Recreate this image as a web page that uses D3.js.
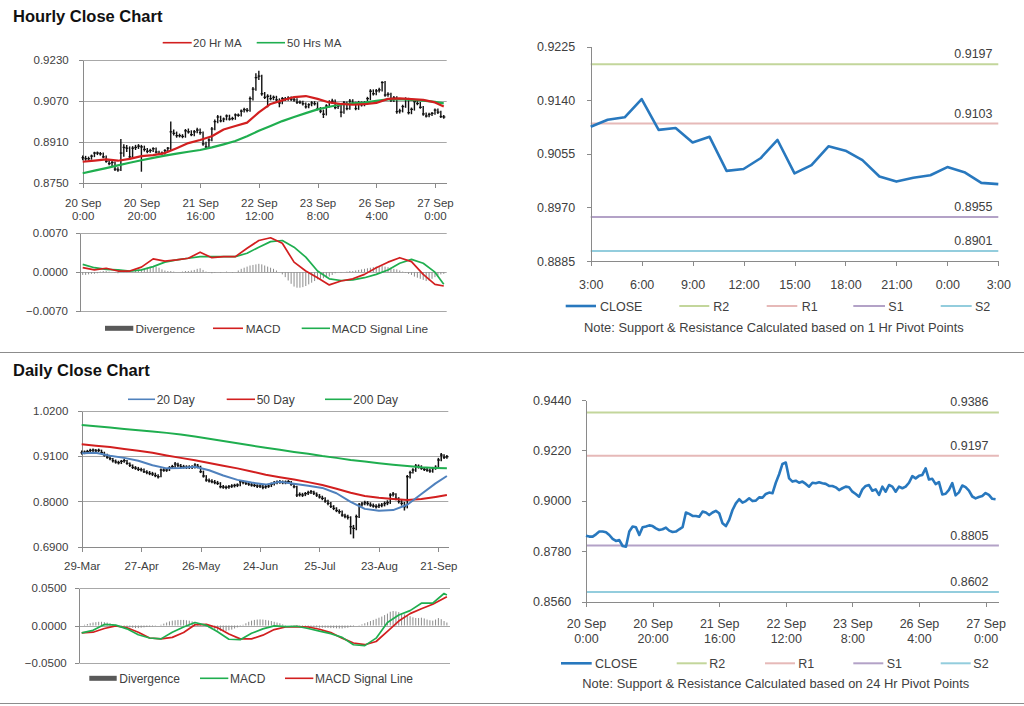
<!DOCTYPE html>
<html><head><meta charset="utf-8">
<script src="https://cdn.jsdelivr.net/npm/d3@7"></script>
<style>
body{margin:0;background:#fff;}
svg{display:block;}
</style></head><body>
<svg id="c" width="1024" height="706"></svg>
<script>
// ---------------- DATA ----------------
// Hourly (20 Sep 0:00 .. 27 Sep 3:00), 124 bars
const hourTickIdx = [0,20,40,60,80,100,120];
const hourTickLabels = [["20 Sep","0:00"],["20 Sep","20:00"],["21 Sep","16:00"],["22 Sep","12:00"],["23 Sep","8:00"],["26 Sep","4:00"],["27 Sep","0:00"]];
const hClose = [0.8848,0.8844,0.8844,0.8854,0.8866,0.8866,0.8863,0.8851,0.8834,0.8825,
 0.8829,0.8803,0.8800,0.8866,0.8888,0.8885,0.8851,0.8885,0.8888,0.8893,
 0.8890,0.8880,0.8873,0.8876,0.8883,0.8870,0.8864,0.8866,0.8876,0.8885,
 0.8949,0.8943,0.8934,0.8934,0.8931,0.8953,0.8949,0.8938,0.8949,0.8956,
 0.8946,0.8902,0.8890,0.8917,0.8960,0.8989,0.9007,0.8992,0.8999,0.9011,
 0.8999,0.9001,0.9015,0.9014,0.9030,0.9036,0.9033,0.9079,0.9116,0.9161,
 0.9167,0.9098,0.9084,0.9088,0.9079,0.9084,0.9074,0.9062,0.9079,0.9077,
 0.9081,0.9077,0.9074,0.9065,0.9065,0.9059,0.9047,0.9055,0.9062,0.9059,
 0.9040,0.9030,0.9018,0.9050,0.9065,0.9069,0.9044,0.9050,0.9026,0.9062,
 0.9040,0.9069,0.9062,0.9040,0.9062,0.9055,0.9062,0.9079,0.9108,0.9098,
 0.9109,0.9113,0.9142,0.9093,0.9096,0.9073,0.9082,0.9028,0.9031,0.9048,
 0.9077,0.9024,0.9037,0.9067,0.9060,0.9045,0.9019,0.9011,0.9017,0.9021,
 0.9034,0.9026,0.9009,0.9007];
const hHigh = [0.8856,0.8855,0.8852,0.8860,0.8871,0.8872,0.8870,0.8868,0.8856,0.8840,
 0.8836,0.8833,0.8810,0.8921,0.8900,0.8897,0.8892,0.8893,0.8898,0.8901,
 0.8898,0.8895,0.8886,0.8883,0.8889,0.8888,0.8875,0.8872,0.8881,0.8890,
 0.8989,0.8958,0.8950,0.8942,0.8940,0.8960,0.8962,0.8955,0.8956,0.8965,
 0.8962,0.8950,0.8910,0.8924,0.8968,0.8997,0.9015,0.9012,0.9005,0.9017,
 0.9016,0.9008,0.9021,0.9021,0.9036,0.9043,0.9042,0.9087,0.9124,0.9178,
 0.9188,0.9172,0.9105,0.9096,0.9094,0.9091,0.9090,0.9080,0.9085,0.9085,
 0.9088,0.9087,0.9083,0.9080,0.9072,0.9071,0.9064,0.9061,0.9069,0.9069,
 0.9065,0.9046,0.9036,0.9057,0.9073,0.9078,0.9075,0.9057,0.9055,0.9070,
 0.9068,0.9077,0.9076,0.9067,0.9070,0.9068,0.9069,0.9086,0.9116,0.9115,
 0.9117,0.9121,0.9147,0.9148,0.9104,0.9102,0.9089,0.9088,0.9039,0.9055,
 0.9084,0.9082,0.9044,0.9073,0.9073,0.9066,0.9050,0.9025,0.9024,0.9027,
 0.9040,0.9040,0.9031,0.9015];
const hLow = [0.8838,0.8836,0.8837,0.8840,0.8850,0.8858,0.8856,0.8846,0.8828,0.8818,
 0.8815,0.8796,0.8793,0.8796,0.8852,0.8870,0.8840,0.8845,0.8878,0.8882,
 0.8793,0.8872,0.8865,0.8867,0.8870,0.8864,0.8858,0.8859,0.8860,0.8870,
 0.8878,0.8935,0.8926,0.8927,0.8924,0.8926,0.8942,0.8932,0.8932,0.8943,
 0.8938,0.8895,0.8882,0.8884,0.8912,0.8955,0.8983,0.8986,0.8987,0.8994,
 0.8993,0.8994,0.8996,0.9008,0.9009,0.9025,0.9026,0.9028,0.9072,0.9110,
 0.9152,0.9090,0.9077,0.9045,0.9072,0.9073,0.9067,0.9045,0.9057,0.9070,
 0.9071,0.9070,0.9067,0.9058,0.9058,0.9052,0.9040,0.9041,0.9049,0.9052,
 0.9033,0.9022,0.9003,0.9013,0.9044,0.9058,0.9037,0.9038,0.9006,0.9020,
 0.9033,0.9035,0.9055,0.9033,0.9035,0.9048,0.9049,0.9056,0.9073,0.9091,
 0.9092,0.9103,0.9107,0.9086,0.9086,0.9066,0.9066,0.9020,0.9021,0.9025,
 0.9043,0.9017,0.9018,0.9032,0.9053,0.9039,0.9012,0.9005,0.9006,0.9011,
 0.9016,0.9019,0.9003,0.9000];
const hLineIdx = [0,4,8,12,16,20,24,28,32,36,40,44,48,52,56,60,64,68,72,76,80,84,88,92,96,100,104,108,112,116,120,123];
const hMA20 = [0.8832,0.8836,0.8841,0.8836,0.8843,0.8854,0.8858,0.8866,0.8885,0.8905,0.8917,0.8932,0.8958,0.8972,0.8985,0.9025,0.9058,0.9072,0.9085,0.9089,0.9078,0.9064,0.9058,0.9055,0.9057,0.9062,0.9078,0.9080,0.9077,0.9074,0.9064,0.9048];
const hMA50 = [0.8787,0.8797,0.8807,0.8818,0.8828,0.8838,0.8847,0.8856,0.8864,0.8871,0.8878,0.8888,0.8900,0.8913,0.8932,0.8953,0.8972,0.8991,0.9007,0.9022,0.9037,0.9047,0.9056,0.9060,0.9063,0.9070,0.9076,0.9077,0.9074,0.9071,0.9066,0.9060];
const hMACD = [0.0008,0.0004,0.0007,0.0002,0.0002,0.0009,0.0024,0.0020,0.0022,0.0025,0.0036,0.0026,0.0028,0.0028,0.0043,0.0057,0.0062,0.0052,0.0018,0.0002,-0.0010,-0.0023,-0.0016,-0.0012,-0.0004,0.0008,0.0018,0.0026,0.0019,-0.0004,-0.0022,-0.0025];
const hSignal = [0.0014,0.0008,0.0005,0.0004,0.0002,0.0004,0.0010,0.0018,0.0022,0.0025,0.0028,0.0028,0.0028,0.0028,0.0034,0.0045,0.0055,0.0057,0.0045,0.0027,0.0002,-0.0012,-0.0015,-0.0014,-0.0010,-0.0004,0.0004,0.0016,0.0023,0.0016,0.0000,-0.0022];
const hDiv = [-0.0005,-0.0005,-0.0004,-0.0003,-0.0003,-0.0002,0.0001,0.0002,0.0002,0.0001,
 0.0000,-0.0001,-0.0002,0.0000,0.0001,0.0001,0.0000,0.0001,0.0002,0.0003,
 0.0004,0.0006,0.0008,0.0010,0.0011,0.0010,0.0008,0.0005,0.0003,0.0002,
 0.0002,0.0001,0.0000,0.0000,0.0001,0.0002,0.0002,0.0003,0.0004,0.0006,
 0.0007,0.0004,0.0001,-0.0001,-0.0002,-0.0001,0.0000,-0.0001,0.0000,0.0001,
 0.0000,-0.0001,0.0000,0.0003,0.0006,0.0008,0.0010,0.0012,0.0013,0.0014,
 0.0015,0.0014,0.0012,0.0010,0.0008,0.0006,0.0003,0.0000,-0.0004,-0.0009,
 -0.0015,-0.0021,-0.0026,-0.0028,-0.0028,-0.0027,-0.0025,-0.0022,-0.0019,-0.0016,
 -0.0013,-0.0012,-0.0011,-0.0010,-0.0008,-0.0005,-0.0002,0.0000,-0.0001,0.0000,
 0.0001,0.0002,0.0002,0.0003,0.0004,0.0005,0.0006,0.0007,0.0008,0.0009,
 0.0010,0.0010,0.0011,0.0010,0.0009,0.0008,0.0006,0.0005,0.0003,0.0001,
 -0.0001,-0.0003,-0.0005,-0.0008,-0.0010,-0.0012,-0.0014,-0.0016,-0.0015,-0.0012,
 -0.0009,-0.0006,-0.0004,-0.0003];
// 1 Hr pivot panel (26 Sep 3:00 .. 27 Sep 3:00)
const pivotNames = ["R2","R1","S1","S2"];
const pivotColors = ["#c3d69b","#e6b9b8","#b3a2c7","#93cddd"];
const pivot1h = [0.9197,0.9103,0.8955,0.8901];
const close1h = [0.9098,0.9109,0.9113,0.9142,0.9093,0.9096,0.9073,0.9082,0.9028,0.9031,0.9048,0.9077,0.9024,0.9037,0.9067,0.9060,0.9045,0.9019,0.9011,0.9017,0.9021,0.9034,0.9026,0.9009,0.9007];
const tick1hIdx = [0,3,6,9,12,15,18,21,24];
const tick1hLabels = ["3:00","6:00","9:00","12:00","15:00","18:00","21:00","0:00","3:00"];
const ticks1hY = [0.8885,0.8970,0.9055,0.9140,0.9225];
// 24 Hr pivot panel
const pivot24h = [0.9386,0.9197,0.8805,0.8602];
const ticks24hY = [0.8560,0.8780,0.9000,0.9220,0.9440];

// Daily (29-Mar .. 26-Sep), 130 bars
const dayTickIdx = [0,21,42,63,84,105,126];
const dayTickLabels = ["29-Mar","27-Apr","26-May","24-Jun","25-Jul","23-Aug","21-Sep"];
const dClose = [0.9186,0.9200,0.9215,0.9240,0.9251,0.9230,0.9245,0.9190,0.9130,0.9075,
 0.9040,0.8992,0.8960,0.8943,0.8975,0.8992,0.8927,0.8880,0.8829,0.8810,
 0.8781,0.8770,0.8724,0.8705,0.8680,0.8667,0.8630,0.8602,0.8765,0.8760,
 0.8765,0.8820,0.8846,0.8911,0.8880,0.8846,0.8840,0.8829,0.8835,0.8829,
 0.8886,0.8850,0.8724,0.8620,0.8521,0.8500,0.8481,0.8460,0.8440,0.8359,
 0.8350,0.8343,0.8360,0.8375,0.8390,0.8400,0.8481,0.8470,0.8440,0.8420,
 0.8400,0.8390,0.8375,0.8375,0.8343,0.8360,0.8375,0.8420,0.8456,0.8470,
 0.8481,0.8460,0.8470,0.8481,0.8420,0.8359,0.8156,0.8170,0.8156,0.8190,
 0.8213,0.8237,0.8200,0.8156,0.8110,0.8075,0.8010,0.7954,0.7880,0.7832,
 0.7780,0.7751,0.7670,0.7640,0.7613,0.7386,0.7346,0.7629,0.7913,0.7940,
 0.7970,0.7950,0.7913,0.7890,0.7873,0.7900,0.7913,0.7950,0.7970,0.8156,
 0.8181,0.8075,0.8000,0.7954,0.7873,0.8602,0.8700,0.8765,0.8862,0.8850,
 0.8810,0.8781,0.8760,0.8740,0.8800,0.8829,0.9008,0.9129,0.9073,0.9089];
const dHigh = [0.9240,0.9240,0.9255,0.9280,0.9290,0.9275,0.9285,0.9260,0.9210,0.9160,
 0.9100,0.9060,0.9020,0.8990,0.9010,0.9040,0.9010,0.8950,0.8900,0.8860,
 0.8840,0.8820,0.8800,0.8760,0.8740,0.8720,0.8700,0.8660,0.8800,0.8810,
 0.8810,0.8860,0.8890,0.8960,0.8940,0.8910,0.8890,0.8880,0.8880,0.8880,
 0.8930,0.8910,0.8870,0.8750,0.8640,0.8560,0.8540,0.8520,0.8500,0.8470,
 0.8400,0.8390,0.8400,0.8420,0.8430,0.8440,0.8520,0.8520,0.8500,0.8470,
 0.8450,0.8440,0.8420,0.8420,0.8400,0.8400,0.8420,0.8460,0.8500,0.8510,
 0.8520,0.8510,0.8510,0.8520,0.8500,0.8440,0.8380,0.8220,0.8210,0.8230,
 0.8260,0.8280,0.8260,0.8220,0.8180,0.8140,0.8100,0.8040,0.7990,0.7910,
 0.7860,0.7810,0.7780,0.7700,0.7680,0.7640,0.7430,0.7680,0.7960,0.7990,
 0.8020,0.8010,0.7980,0.7950,0.7930,0.7950,0.7960,0.8000,0.8030,0.8200,
 0.8230,0.8200,0.8100,0.8040,0.7990,0.8643,0.8750,0.8810,0.8910,0.8900,
 0.8880,0.8840,0.8820,0.8800,0.8840,0.8880,0.9060,0.9180,0.9150,0.9130];
const dLow = [0.9140,0.9150,0.9170,0.9190,0.9205,0.9190,0.9200,0.9150,0.9090,0.9040,
 0.9000,0.8950,0.8920,0.8900,0.8910,0.8940,0.8890,0.8840,0.8790,0.8770,
 0.8740,0.8730,0.8690,0.8660,0.8640,0.8620,0.8590,0.8560,0.8590,0.8720,
 0.8720,0.8740,0.8790,0.8820,0.8840,0.8800,0.8800,0.8790,0.8790,0.8790,
 0.8800,0.8810,0.8690,0.8580,0.8480,0.8460,0.8440,0.8420,0.8400,0.8320,
 0.8310,0.8300,0.8310,0.8330,0.8340,0.8350,0.8370,0.8420,0.8400,0.8380,
 0.8360,0.8350,0.8330,0.8330,0.8300,0.8310,0.8330,0.8350,0.8390,0.8420,
 0.8430,0.8420,0.8420,0.8430,0.8380,0.8320,0.8110,0.8120,0.8110,0.8130,
 0.8160,0.8180,0.8160,0.8110,0.8070,0.8030,0.7970,0.7910,0.7840,0.7790,
 0.7740,0.7700,0.7630,0.7590,0.7560,0.7200,0.7102,0.7300,0.7600,0.7880,
 0.7910,0.7900,0.7870,0.7850,0.7830,0.7840,0.7860,0.7880,0.7910,0.7940,
 0.8120,0.8030,0.7950,0.7900,0.7780,0.7832,0.8560,0.8680,0.8720,0.8800,
 0.8770,0.8740,0.8720,0.8700,0.8700,0.8770,0.8800,0.8980,0.9030,0.9040];
const dMAIdx = [0,5,10,15,20,25,30,35,40,45,50,55,60,65,70,75,80,85,90,95,100,105,110,115,120,125,129];
const dMA20 = [0.9170,0.9186,0.9110,0.9060,0.8990,0.8880,0.8805,0.8815,0.8846,0.8760,0.8630,0.8525,0.8460,0.8410,0.8481,0.8430,0.8380,0.8330,0.8200,0.7990,0.7820,0.7775,0.7790,0.7920,0.8180,0.8440,0.8619];
const dMA50 = [0.9389,0.9355,0.9322,0.9275,0.9235,0.9185,0.9120,0.9060,0.9000,0.8935,0.8870,0.8805,0.8730,0.8650,0.8590,0.8535,0.8470,0.8400,0.8310,0.8210,0.8135,0.8090,0.8060,0.8035,0.8060,0.8110,0.8156];
const dMA200 = [0.9859,0.9828,0.9796,0.9764,0.9732,0.9700,0.9668,0.9630,0.9580,0.9525,0.9470,0.9415,0.9360,0.9305,0.9255,0.9205,0.9160,0.9105,0.9060,0.9010,0.8970,0.8930,0.8895,0.8860,0.8830,0.8815,0.8805];
const dMacdIdx = [0,4,8,12,16,20,24,28,32,36,40,44,48,52,56,60,64,68,72,76,80,84,88,92,96,100,104,108,112,116,120,124,128,129];
const dMACD = [-0.0100,-0.0065,0.0015,0.0005,-0.0045,-0.0125,-0.0168,-0.0180,-0.0090,-0.0020,0.0040,0.0002,-0.0085,-0.0185,-0.0190,-0.0105,-0.0045,-0.0005,-0.0015,-0.0010,-0.0040,-0.0075,-0.0110,-0.0160,-0.0259,-0.0270,-0.0170,0.0040,0.0140,0.0200,0.0300,0.0300,0.0430,0.0410];
const dSignal = [-0.0100,-0.0090,-0.0040,-0.0005,-0.0030,-0.0090,-0.0168,-0.0180,-0.0160,-0.0095,0.0010,0.0015,-0.0030,-0.0115,-0.0180,-0.0180,-0.0130,-0.0055,-0.0020,-0.0015,-0.0020,-0.0050,-0.0095,-0.0170,-0.0235,-0.0258,-0.0215,-0.0080,0.0060,0.0160,0.0225,0.0285,0.0365,0.0385];
const dDiv = [0.0000,0.0010,0.0020,0.0030,0.0040,0.0045,0.0050,0.0050,0.0045,0.0040,
 0.0030,0.0020,0.0010,0.0000,-0.0010,-0.0015,-0.0020,-0.0025,-0.0030,-0.0035,
 -0.0035,-0.0030,-0.0025,-0.0020,-0.0015,-0.0010,-0.0005,0.0000,0.0010,0.0025,
 0.0040,0.0055,0.0065,0.0070,0.0075,0.0075,0.0075,0.0070,0.0065,0.0055,
 0.0040,0.0025,0.0010,-0.0005,-0.0020,-0.0035,-0.0050,-0.0060,-0.0068,-0.0072,
 -0.0075,-0.0072,-0.0065,-0.0055,-0.0040,-0.0025,-0.0010,0.0010,0.0030,0.0050,
 0.0065,0.0075,0.0080,0.0082,0.0080,0.0075,0.0068,0.0060,0.0050,0.0040,
 0.0030,0.0015,0.0005,0.0000,-0.0005,-0.0005,-0.0008,-0.0010,-0.0015,-0.0018,
 -0.0020,-0.0022,-0.0025,-0.0025,-0.0028,-0.0030,-0.0030,-0.0032,-0.0035,-0.0035,
 -0.0038,-0.0040,-0.0040,-0.0035,-0.0030,-0.0020,-0.0010,0.0000,0.0005,0.0015,
 0.0030,0.0045,0.0060,0.0075,0.0090,0.0105,0.0120,0.0140,0.0160,0.0185,
 0.0195,0.0190,0.0180,0.0165,0.0150,0.0140,0.0125,0.0110,0.0100,0.0100,
 0.0105,0.0095,0.0080,0.0070,0.0065,0.0080,0.0100,0.0085,0.0060,0.0040];

// ---------------- DRAWING ----------------
const FONT = '"Liberation Sans", Arial, Helvetica, sans-serif';
const AX = "#8a8a8a", GRID = "#a8a8a8", TXT = "#404040";
const svg = d3.select("#c").attr("font-family", FONT);

function styleAxis(g, fs) {
  g.attr("font-family", FONT).attr("font-size", fs);
  g.select(".domain").attr("stroke", AX).attr("shape-rendering","crispEdges");
  g.selectAll(".tick line").attr("stroke", AX).attr("shape-rendering","crispEdges");
  g.selectAll(".tick text").attr("fill", TXT);
}
function yAxis(y, xPos, ticks, fs, pad) {
  const g = svg.append("g").attr("transform", `translate(${xPos},0)`)
    .call(d3.axisLeft(y).tickValues(ticks).tickFormat(d3.format(".4f")).tickSize(4).tickSizeOuter(0).tickPadding(pad));
  styleAxis(g, fs);
  return g;
}
function xAxis(x, yPos, idx, labels, fs, off1, off2) {
  const g = svg.append("g").attr("transform", `translate(0,${yPos})`)
    .call(d3.axisBottom(x).tickValues(idx).tickSize(5).tickSizeOuter(0).tickFormat(""));
  styleAxis(g, fs);
  g.selectAll(".tick text").remove();
  g.selectAll(".tick").each(function(d, i) {
    const lab = labels[i];
    const t = d3.select(this).append("text").attr("fill", TXT).attr("text-anchor", "middle");
    if (Array.isArray(lab)) {
      t.append("tspan").attr("x", 0).attr("y", off1).text(lab[0]);
      t.append("tspan").attr("x", 0).attr("y", off2).text(lab[1]);
    } else {
      t.attr("y", off1).text(lab);
    }
  });
  return g;
}
function grid(y, vals, x0, x1) {
  svg.append("g").selectAll("line").data(vals).join("line")
    .attr("x1", x0).attr("x2", x1)
    .attr("y1", d => Math.round(y(d)) + 0.5).attr("y2", d => Math.round(y(d)) + 0.5)
    .attr("stroke", GRID).attr("stroke-width", 1);
}
function path(xs, ys, x, y, color, w) {
  svg.append("path").datum(ys.map((v, i) => [xs[i], v]))
    .attr("fill", "none").attr("stroke", color).attr("stroke-width", w)
    .attr("stroke-linejoin", "round")
    .attr("d", d3.line().x(d => x(d[0])).y(d => y(d[1])));
}
function legLine(x1, x2, y, color, w, label, tx, fs) {
  svg.append("line").attr("x1", x1).attr("x2", x2).attr("y1", y).attr("y2", y)
    .attr("stroke", color).attr("stroke-width", w);
  svg.append("text").attr("x", tx).attr("y", y + fs * 0.36).attr("font-size", fs)
    .attr("fill", TXT).text(label);
}
function legBar(x1, x2, y, label, tx, fs) {
  svg.append("rect").attr("x", x1).attr("y", y - 2.5).attr("width", x2 - x1).attr("height", 5).attr("fill", "#595959");
  svg.append("text").attr("x", tx).attr("y", y + fs * 0.36).attr("font-size", fs)
    .attr("fill", TXT).text(label);
}
function candles(close, high, low, x, y, w) {
  const g = svg.append("g");
  g.selectAll("line.r").data(close).join("line").attr("class","r")
    .attr("x1", (d, i) => x(i)).attr("x2", (d, i) => x(i))
    .attr("y1", (d, i) => y(high[i])).attr("y2", (d, i) => y(low[i]))
    .attr("stroke", "#111").attr("stroke-width", w);
  g.selectAll("line.c").data(close).join("line").attr("class","c")
    .attr("x1", (d, i) => x(i) - 1.2).attr("x2", (d, i) => x(i) + 1.6)
    .attr("y1", d => y(d)).attr("y2", d => y(d))
    .attr("stroke", "#111").attr("stroke-width", 1.3);
}
function bars(vals, x, y, color) {
  svg.append("g").selectAll("rect").data(vals).join("rect")
    .attr("x", (d, i) => x(i) - 0.5).attr("width", 1)
    .attr("y", d => Math.min(y(d), y(0))).attr("height", d => Math.abs(y(d) - y(0)))
    .attr("fill", color);
}
function title(t, x, y) {
  svg.append("text").attr("x", x).attr("y", y).attr("font-size", 16.5).attr("font-weight", "bold")
    .attr("fill", "#111").text(t);
}
function sep(y) {
  svg.append("line").attr("x1", 0).attr("x2", 1024).attr("y1", y).attr("y2", y)
    .attr("stroke", "#8c8c8c").attr("stroke-width", 1);
}

const RED = "#d21f1f", GREEN = "#1fae4f", BLUE = "#2878be", LBLUE = "#4f81bd";

// ===== Section titles & separators =====
title("Hourly Close Chart", 13, 22);
title("Daily Close Chart", 13, 376);
sep(352.5);
sep(703.5);

// ===== Top-left: hourly candles =====
{
  const x = d3.scaleLinear().domain([0, 124]).range([82.7, 446.7]);
  const y = d3.scaleLinear().domain([0.8750, 0.9230]).range([182.7, 60]);
  grid(y, [0.9230, 0.9070, 0.8910], 82.7, 446.7);
  yAxis(y, 82.7, [0.8750, 0.8910, 0.9070, 0.9230], 11.5, 10);
  xAxis(x, 182.7, hourTickIdx, hourTickLabels, 11.5, 24, 37.5);
  candles(hClose, hHigh, hLow, x, y, 1.4);
  path(hLineIdx, hMA50, x, y, GREEN, 2.2);
  path(hLineIdx, hMA20, x, y, RED, 2.2);
  legLine(162.7, 191.7, 42.7, RED, 1.6, "20 Hr MA", 193, 11.5);
  legLine(256.7, 285, 42.7, GREEN, 1.6, "50 Hrs MA", 287, 11.5);

  // MACD panel
  const ym = d3.scaleLinear().domain([-0.007, 0.007]).range([311, 233.3]);
  grid(ym, [0.007, 0, -0.007], 80, 446.7);
  yAxis(ym, 80, [-0.007, 0, 0.007], 11.5, 8);
  bars(hDiv, x, ym, "#8c8c8c");
  path(hLineIdx, hSignal, x, ym, GREEN, 1.7);
  path(hLineIdx, hMACD, x, ym, RED, 1.7);
  legBar(105, 133.3, 328.3, "Divergence", 135.5, 11.8);
  legLine(213, 243, 328.3, RED, 1.6, "MACD", 245.7, 11.8);
  legLine(301.7, 330, 328.3, GREEN, 1.6, "MACD Signal Line", 331.7, 11.8);
}

// ===== Pivot panels =====
function pivotPanel(closeVals, pivots, x, y, yTicks, pad, labelX, fs) {
  pivots.forEach((v, k) => {
    svg.append("line").attr("x1", x.range()[0]).attr("x2", x.range()[1])
      .attr("y1", y(v)).attr("y2", y(v)).attr("stroke", pivotColors[k]).attr("stroke-width", 2);
    svg.append("text").attr("x", labelX).attr("y", y(v) - 6).attr("text-anchor", "end")
      .attr("font-size", fs).attr("fill", TXT).text(d3.format(".4f")(v));
  });
  yAxis(y, x.range()[0], yTicks, fs, pad);
  svg.append("path").datum(closeVals).attr("fill", "none").attr("stroke", BLUE)
    .attr("stroke-width", 2.6).attr("stroke-linejoin", "round")
    .attr("d", d3.line().x((d, i) => x(i)).y(d => y(d)));
}
{
  const x = d3.scaleLinear().domain([0, 24]).range([590.7, 998.3]);
  const y = d3.scaleLinear().domain([0.8885, 0.9225]).range([261, 46.7]);
  pivotPanel(close1h, pivot1h, x, y, ticks1hY, 11.5, 992.5, 12.5);
  xAxis(x, 261, tick1hIdx, tick1hLabels, 12.5, 28, 0);
  const ly = 306;
  legLine(565.7, 596, ly, BLUE, 2.6, "CLOSE", 600, 12.5);
  const lx = [[679.3, 709.3, 713.3], [766.7, 797.3, 801.7], [853.3, 885, 888.3], [940.7, 971.7, 975]];
  pivotNames.forEach((n, k) => legLine(lx[k][0], lx[k][1], ly, pivotColors[k], 2, n, lx[k][2], 12.5));
  svg.append("text").attr("x", 584).attr("y", 332).attr("font-size", 12.9).attr("fill", TXT)
    .text("Note: Support & Resistance Calculated based on 1 Hr Pivot Points");
}
{
  const x = d3.scaleLinear().domain([0, 124]).range([586, 998.9]);
  const y = d3.scaleLinear().domain([0.8560, 0.9440]).range([601.7, 400]);
  pivotPanel(hClose, pivot24h, x, y, ticks24hY, 10.7, 988.5, 12.5);
  xAxis(x, 601.7, hourTickIdx, hourTickLabels, 12.5, 26, 41);
  const ly = 663.3;
  legLine(561, 591.7, ly, BLUE, 2.6, "CLOSE", 595, 12.5);
  const lx = [[676.7, 706.7, 709.3], [765, 795, 798.3], [853.3, 883.3, 886.7], [940.7, 970.7, 973.3]];
  pivotNames.forEach((n, k) => legLine(lx[k][0], lx[k][1], ly, pivotColors[k], 2, n, lx[k][2], 12.5));
  svg.append("text").attr("x", 582.3).attr("y", 688).attr("font-size", 12.9).attr("fill", TXT)
    .text("Note: Support & Resistance Calculated based on 24 Hr Pivot Points");
}

// ===== Bottom-left: daily candles =====
{
  const x = d3.scaleLinear().domain([0, 129.5]).range([81.7, 448.3]);
  const y = d3.scaleLinear().domain([0.69, 1.02]).range([546.7, 411]);
  grid(y, [1.02, 0.91, 0.80], 81.7, 448.3);
  yAxis(y, 81.7, [0.69, 0.80, 0.91, 1.02], 11.5, 9.4);
  xAxis(x, 546.7, dayTickIdx, dayTickLabels, 11.5, 23, 0);
  candles(dClose, dHigh, dLow, x, y, 1.5);
  path(dMAIdx, dMA200, x, y, GREEN, 2);
  path(dMAIdx, dMA50, x, y, RED, 2);
  path(dMAIdx, dMA20, x, y, LBLUE, 2);
  legLine(128, 155, 399.3, LBLUE, 1.6, "20 Day", 156.7, 12);
  legLine(226.7, 255, 399.3, RED, 1.6, "50 Day", 256.7, 12);
  legLine(325, 351.7, 399.3, GREEN, 1.6, "200 Day", 353.3, 12);

  const ym = d3.scaleLinear().domain([-0.05, 0.05]).range([662.7, 588.3]);
  grid(ym, [0.05, 0, -0.05], 79.3, 450);
  yAxis(ym, 79.3, [-0.05, 0, 0.05], 11.5, 8.6);
  bars(dDiv, x, ym, "#8c8c8c");
  path(dMacdIdx, dSignal, x, ym, RED, 1.7);
  path(dMacdIdx, dMACD, x, ym, GREEN, 1.7);
  legBar(89.3, 116.7, 678.3, "Divergence", 119.3, 12);
  legLine(200, 228.3, 678.3, GREEN, 1.6, "MACD", 230, 12);
  legLine(285, 313.3, 678.3, RED, 1.6, "MACD Signal Line", 315, 12);
}
</script>
</body></html>
